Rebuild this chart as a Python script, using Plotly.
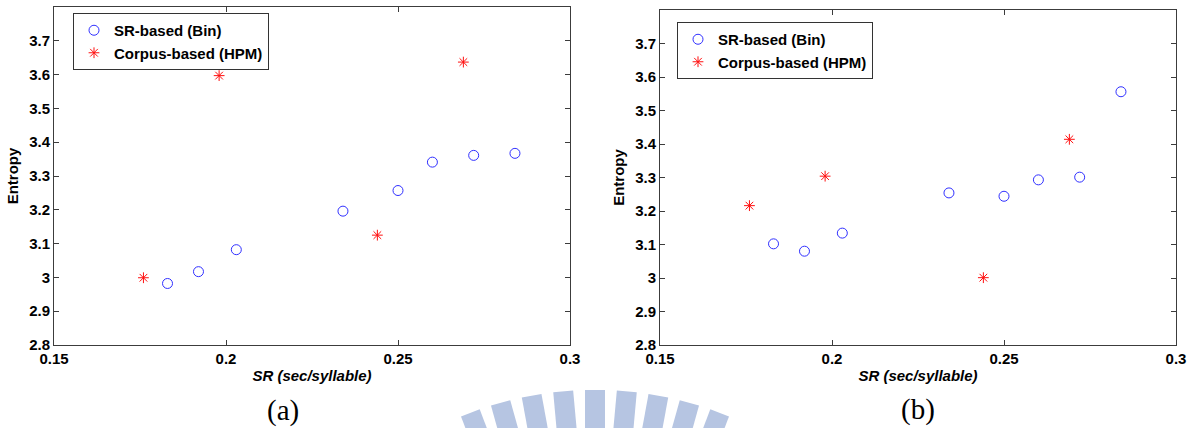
import math
import plotly.graph_objects as go

# ---------------- data ----------------
sr_bin = [0.183, 0.192, 0.203, 0.234, 0.250, 0.260, 0.272, 0.284]
ent_bin_a = [2.982, 3.017, 3.082, 3.196, 3.257, 3.341, 3.361, 3.367]
ent_bin_b = [3.102, 3.080, 3.134, 3.254, 3.244, 3.293, 3.301, 3.556]

sr_hpm = [0.176, 0.198, 0.244, 0.269]
ent_hpm_a = [2.999, 3.597, 3.125, 3.637]
ent_hpm_b = [3.216, 3.304, 3.001, 3.414]

x_ticks = [0.15, 0.2, 0.25, 0.3]
x_ticklabels = ["0.15", "0.2", "0.25", "0.3"]
y_ticks = [2.8, 2.9, 3.0, 3.1, 3.2, 3.3, 3.4, 3.5, 3.6, 3.7]
y_ticklabels = ["2.8", "2.9", "3", "3.1", "3.2", "3.3", "3.4", "3.5", "3.6", "3.7"]

name_bin = "SR-based (Bin)"
name_hpm = "Corpus-based (HPM)"
panel_labels = ["(a)", "(b)"]

# ---------------- geometry ----------------
W, H = 1193, 428
ML, MR, MT, MB = 54, 17, 7, 83
PW, PH = W - ML - MR, H - MT - MB


def px(x):
    return (x - ML) / PW


def py(y):
    return (H - MB - y) / PH


FONT = "Liberation Sans"
AX_COLOR = "#3c3c3c"

fig = go.Figure()

for i, (eb, eh) in enumerate([(ent_bin_a, ent_hpm_a), (ent_bin_b, ent_hpm_b)]):
    sfx = "" if i == 0 else "2"
    fig.add_trace(go.Scatter(
        x=sr_bin, y=eb, mode="markers", name=name_bin,
        xaxis="x" + sfx, yaxis="y" + sfx, legend="legend" + sfx,
        marker=dict(symbol="circle-open", size=10, color="#3030ff",
                    line=dict(width=1, color="#3030ff")),
    ))
    fig.add_trace(go.Scatter(
        x=sr_hpm, y=eh, mode="markers", name=name_hpm,
        xaxis="x" + sfx, yaxis="y" + sfx, legend="legend" + sfx,
        marker=dict(symbol="asterisk-open", size=9, color="#ff1010",
                    line=dict(width=1, color="#ff1010")),
    ))

axis_common = dict(
    showline=True, linecolor=AX_COLOR, linewidth=1, mirror="ticks",
    ticks="inside", ticklen=5, tickcolor=AX_COLOR, tickwidth=1,
    showgrid=False, zeroline=False, automargin=False,
    tickfont=dict(family=FONT, size=15, color="black", weight="bold"),
)

xdomains = [[0, px(570)], [px(660), 1.0]]
ydomains = [[0, 1.0], [0, py(10)]]

layout = dict(
    width=W, height=H,
    margin=dict(l=ML, r=MR, t=MT, b=MB),
    paper_bgcolor="white", plot_bgcolor="white",
    template="none",
    showlegend=True,
)

for i in range(2):
    sfx = "" if i == 0 else "2"
    layout["xaxis" + sfx] = dict(
        axis_common, domain=xdomains[i], range=[0.15, 0.3],
        tickvals=x_ticks, ticktext=x_ticklabels, anchor="y" + sfx,
        title=dict(text="SR (sec/syllable)", standoff=4,
                   font=dict(family=FONT, size=15, color="black",
                             weight="bold", style="italic")),
    )
    layout["yaxis" + sfx] = dict(
        axis_common, domain=ydomains[i], range=[2.8, 3.8],
        tickvals=y_ticks, ticktext=y_ticklabels, anchor="x" + sfx,
        title=dict(text="Entropy", standoff=6,
                   font=dict(family=FONT, size=15, color="black", weight="bold")),
    )

leg_pos = [(73, 13), (677, 22)]
for i in range(2):
    sfx = "" if i == 0 else "2"
    lx, ly = leg_pos[i]
    layout["legend" + sfx] = dict(
        x=px(lx), y=py(ly), xanchor="left", yanchor="top",
        xref="paper", yref="paper",
        bgcolor="white", bordercolor="#333333", borderwidth=1,
        font=dict(family=FONT, size=15, color="black", weight="bold"),
        tracegroupgap=0, itemsizing="trace",
    )

fig.update_layout(**layout)

# panel labels
for lab, (cx, cy) in zip(panel_labels, [(283, 410), (918, 409)]):
    fig.add_annotation(
        text=lab, x=px(cx), y=py(cy), xref="paper", yref="paper",
        showarrow=False, xanchor="center", yanchor="middle",
        font=dict(family="Liberation Serif", size=29, color="black"),
    )

# faint watermark (fan of stripes) at the bottom centre
cxw, cyw = 595, 741
for ang in [-20.8, -15.6, -10.4, -5.2, 0, 5.2, 10.4, 15.6, 20.8]:
    a = math.radians(ang)
    dx, dy = math.sin(a), -math.cos(a)
    nx, ny = math.cos(a), math.sin(a)
    hw = 10
    pts = []
    for r, s in [(300, -1), (351, -1), (351, 1), (300, 1)]:
        X = cxw + r * dx + s * hw * nx
        Y = cyw + r * dy + s * hw * ny
        pts.append((px(X), py(Y)))
    path = "M " + " L ".join(f"{p[0]:.5f},{p[1]:.5f}" for p in pts) + " Z"
    fig.add_shape(type="path", path=path, xref="paper", yref="paper",
                  fillcolor="#b6c5e2", line=dict(width=0), layer="below")

fig.write_html("out.html")
